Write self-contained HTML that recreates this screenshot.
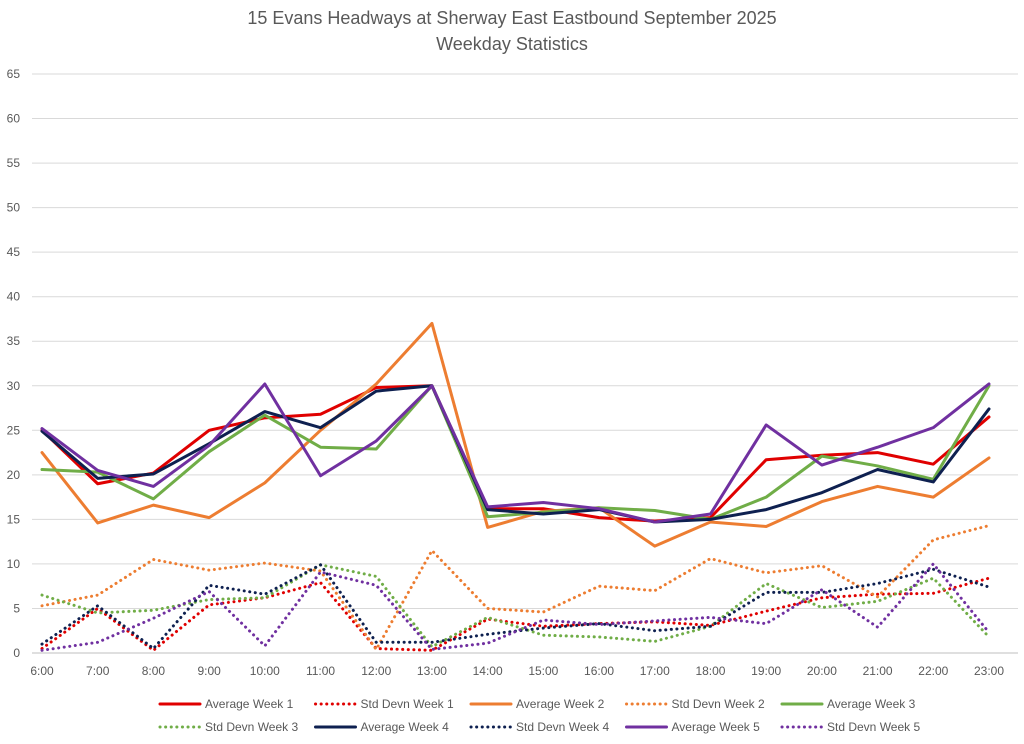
<!DOCTYPE html>
<html><head><meta charset="utf-8"><style>
body{margin:0;background:#fff;font-family:"Liberation Sans",Arial,sans-serif}
</style></head><body>
<svg id="chart" width="1024" height="739" xmlns="http://www.w3.org/2000/svg" font-family="Liberation Sans, Arial, sans-serif">
<text x="512" y="24" text-anchor="middle" font-size="18" fill="#595959">15 Evans Headways at Sherway East Eastbound September 2025</text>
<text x="512" y="50" text-anchor="middle" font-size="18" fill="#595959">Weekday Statistics</text>
<g id="grid"></g><g id="series"></g><g id="legend"></g>
</svg>
<script>
const categories=["6:00","7:00","8:00","9:00","10:00","11:00","12:00","13:00","14:00","15:00","16:00","17:00","18:00","19:00","20:00","21:00","22:00","23:00"];
const yTicks=[0,5,10,15,20,25,30,35,40,45,50,55,60,65];
const avgW1=[25,19,20.2,25,26.4,26.8,29.8,30,16.2,16.2,15.2,14.8,15.2,21.7,22.2,22.5,21.2,26.5];
const sdW1=[0.5,5,0.3,5.4,6.2,7.9,0.5,0.3,3.8,3,3.3,3.5,3.1,4.7,6.2,6.6,6.7,8.4];
const avgW2=[22.5,14.6,16.6,15.2,19.1,25,30.2,37,14.1,15.9,16.3,12,14.7,14.2,17,18.7,17.5,21.9];
const sdW2=[5.3,6.5,10.5,9.3,10.1,9.2,0.4,11.5,5,4.6,7.5,7,10.6,9,9.8,6.3,12.7,14.3];
const avgW3=[20.6,20.3,17.3,22.6,26.7,23.1,22.9,30,15.3,15.8,16.3,16,15,17.5,22.1,21,19.5,30];
const sdW3=[6.5,4.5,4.8,6,6.2,9.9,8.6,0.7,4,2,1.8,1.3,3,7.8,5.1,5.8,8.4,1.8];
const avgW4=[24.9,19.6,20.1,23.5,27.1,25.3,29.4,30,16.1,15.6,16.1,14.7,15,16.1,18,20.6,19.2,27.4];
const sdW4=[1,5.3,0.5,7.6,6.6,9.9,1.2,1.2,2.1,2.8,3.3,2.5,3,6.8,6.8,7.8,9.4,7.4];
const avgW5=[25.2,20.5,18.7,23.3,30.2,19.9,23.8,30,16.4,16.9,16.2,14.7,15.6,25.6,21.1,23.1,25.3,30.2];
const sdW5=[0.3,1.2,3.9,6.9,0.8,9.1,7.6,0.4,1.1,3.7,3.2,3.6,4,3.3,7.1,2.9,10,2.3];
const NS="http://www.w3.org/2000/svg";
const x0=42,x1=989,yb=653,yt=74;
const xs=i=>x0+i*(x1-x0)/(categories.length-1);
const ys=v=>yb-v*(yb-yt)/65;
function mk(tag,at,parent){const e=document.createElementNS(NS,tag);for(const k in at)e.setAttribute(k,at[k]);parent.appendChild(e);return e;}
const grid=document.getElementById('grid');
yTicks.forEach(t=>{
 const l=mk('line',{x1:32,x2:1018,y1:ys(t),y2:ys(t),stroke:t===0?'#bfbfbf':'#d9d9d9','stroke-width':1},grid);
 
 
 const tx=mk('text',{x:20,y:ys(t)+4,'text-anchor':'end','font-size':12,fill:'#595959'},grid);
 tx.textContent=t;
 
 
});
categories.forEach((c,i)=>{
 const tx=mk('text',{x:xs(i),y:675,'text-anchor':'middle','font-size':12,fill:'#595959'},grid);
 tx.textContent=c;
 
 
});
const series=[
 ["Average Week 1",avgW1,"#e00000",false],["Std Devn Week 1",sdW1,"#e00000",true],
 ["Average Week 2",avgW2,"#ed7d31",false],["Std Devn Week 2",sdW2,"#ed7d31",true],
 ["Average Week 3",avgW3,"#70ad47",false],["Std Devn Week 3",sdW3,"#70ad47",true],
 ["Average Week 4",avgW4,"#0e2050",false],["Std Devn Week 4",sdW4,"#0e2050",true],
 ["Average Week 5",avgW5,"#7030a0",false],["Std Devn Week 5",sdW5,"#7030a0",true]];
const sg=document.getElementById('series');
series.forEach(([name,vals,col,dot])=>{
 const p=mk('polyline',{points:vals.map((v,i)=>xs(i)+','+ys(v)).join(' '),fill:'none',stroke:col,'stroke-width':dot?3:3,'stroke-linejoin':'round','stroke-linecap':'round','stroke-dasharray':dot?'0.1 5.5':'none'},sg);
 
 
});
const lg=document.getElementById('legend');
const order=[0,1,2,3,4,5,6,7,8,9];
order.forEach((si,k)=>{
 const [name,,col,dot]=series[si];
 const row=Math.floor(k/5),colI=k%5;
 const lx=160+colI*155.5,ly=704+row*23;
 const g=mk('g',{},lg);
 
 
 mk('line',{x1:lx,x2:lx+40,y1:ly,y2:ly,stroke:col,'stroke-width':3,'stroke-linecap':'round','stroke-dasharray':dot?'0.1 5.5':'none'},g);
 const t=mk('text',{x:lx+45,y:ly+4,'font-size':12,fill:'#595959'},g);
 t.textContent=name;
});
</script>
</body></html>
